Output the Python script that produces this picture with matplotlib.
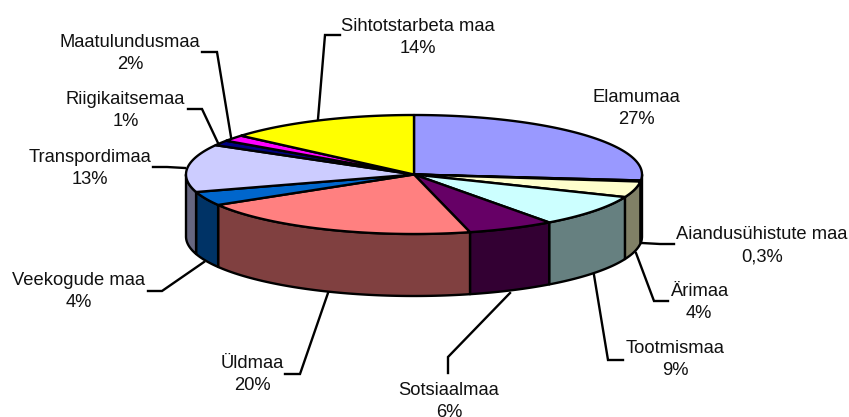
import numpy as np
import matplotlib
matplotlib.use("Agg")
import matplotlib.pyplot as plt
from matplotlib.patches import Polygon

plt.rcParams['font.family'] = ['Liberation Sans', 'DejaVu Sans']

categories = ["Elamumaa", "Aiandusühistute maa", "Ärimaa", "Tootmismaa", "Sotsiaalmaa",
              "Üldmaa", "Veekogude maa", "Transpordimaa", "Riigikaitsemaa", "Maatulundusmaa",
              "Sihtotstarbeta maa"]
values = [26.6, 0.3, 4.3, 8.7, 6.15, 20.4, 3.8, 12.95, 1.4, 1.7, 13.7]
value_labels = ["27%", "0,3%", "4%", "9%", "6%", "20%", "4%", "13%", "1%", "2%", "14%"]
colors = ["#9999FF", "#FFFFFF", "#FFFFCC", "#CCFFFF", "#660066", "#FF8080",
          "#0066CC", "#CCCCFF", "#000080", "#FF00FF", "#FFFF00"]

# layout (pixels)
CX, CY, RX, RY, DEPTH = 414, 174.5, 228, 59.5, 62
LW = 1.7
label_pos = [(636, 108.5), (762, 245.5), (699, 302.5), (675, 359.5), (449, 401.5),
             (252, 374.5), (79, 291.5), (90, 168.5), (125.5, 110.5), (130, 53.5), (418, 37.5)]
leaders = [None,
           [(642, 243), (660, 244), (674, 244)],
           [(636, 253), (654, 301), (668, 301)],
           [(594, 275), (608, 360), (623, 360)],
           [(510, 293), (448, 357), (448, 373)],
           [(328, 293), (300, 374), (285, 374)],
           [(204, 262), (162, 291), (148, 291)],
           [(185, 168), (167, 167), (153, 167)],
           [(218, 143), (202, 109), (188, 109)],
           [(231, 137), (217, 52), (202, 52)],
           [(318, 119), (325, 35), (340, 35)]]

fig = plt.figure(figsize=(8.49, 4.17), dpi=100)
ax = fig.add_axes([0, 0, 1, 1])
ax.set_xlim(0, 849)
ax.set_ylim(417, 0)
ax.axis('off')


def pt(a, dy=0):
    a = np.radians(a)
    return np.column_stack([CX + RX * np.sin(a), CY - RY * np.cos(a) + dy])


v = np.array(values, float)
edges = np.concatenate([[0], np.cumsum(v)]) / v.sum() * 360

# sides (visible front half: clockwise angle 90..270)
for i, c in enumerate(colors):
    a0, a1 = max(edges[i], 90), min(edges[i + 1], 270)
    if a1 <= a0:
        continue
    arc = np.linspace(a0, a1, 60)
    rgb = np.array(matplotlib.colors.to_rgb(c)) * 0.5
    poly = np.vstack([pt(arc), pt(arc[::-1], DEPTH)])
    ax.add_patch(Polygon(poly, closed=True, fc=rgb, ec='black', lw=LW, joinstyle='round'))

# tops
for i, c in enumerate(colors):
    n = max(int(edges[i + 1] - edges[i]) * 3, 4)
    arc = np.linspace(edges[i], edges[i + 1], n)
    poly = np.vstack([[CX, CY], pt(arc)])
    ax.add_patch(Polygon(poly, closed=True, fc=c, ec='black', lw=LW, joinstyle='round'))

# leaders and labels
for name, val, p, l in zip(categories, value_labels, label_pos, leaders):
    if l:
        xs, ys = zip(*l)
        ax.plot(xs, ys, color='black', lw=LW, solid_joinstyle='miter')
    ax.text(p[0], p[1], name + "\n" + val, ha='center', va='center', fontsize=13.2,
            linespacing=1.41, color='#111111')

fig.savefig("out.png", dpi=100)
